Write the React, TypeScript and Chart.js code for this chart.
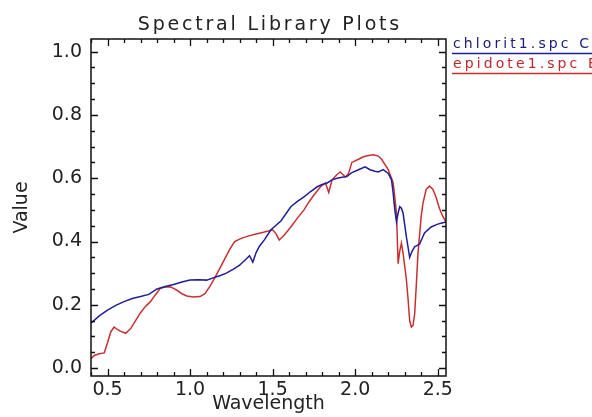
import React, { useEffect, useRef } from "react";
import { Chart, registerables } from "chart.js";

Chart.register(...registerables);

// ---- data ----
const chloritX = [0.40, 0.45, 0.50, 0.55, 0.60, 0.65, 0.70, 0.75, 0.80, 0.85, 0.90, 0.95, 1.00, 1.05, 1.10, 1.14, 1.18, 1.22, 1.26, 1.30, 1.34, 1.36, 1.38, 1.40, 1.42, 1.45, 1.49, 1.55, 1.61, 1.65, 1.69, 1.73, 1.77, 1.80, 1.83, 1.86, 1.89, 1.92, 1.95, 1.98, 2.02, 2.06, 2.09, 2.12, 2.14, 2.17, 2.20, 2.22, 2.23, 2.24, 2.25, 2.26, 2.27, 2.28, 2.29, 2.31, 2.33, 2.345, 2.36, 2.39, 2.42, 2.46, 2.50, 2.52, 2.55];
const chloritY = [0.142, 0.165, 0.183, 0.198, 0.210, 0.220, 0.226, 0.233, 0.250, 0.258, 0.264, 0.272, 0.278, 0.279, 0.278, 0.285, 0.292, 0.300, 0.312, 0.325, 0.345, 0.355, 0.335, 0.365, 0.385, 0.405, 0.437, 0.465, 0.510, 0.527, 0.541, 0.558, 0.573, 0.580, 0.585, 0.595, 0.600, 0.603, 0.605, 0.618, 0.627, 0.636, 0.627, 0.622, 0.620, 0.627, 0.615, 0.595, 0.553, 0.500, 0.462, 0.490, 0.510, 0.505, 0.490, 0.415, 0.350, 0.370, 0.383, 0.392, 0.427, 0.446, 0.455, 0.458, 0.462];

const epidoteX = [0.40, 0.42, 0.45, 0.48, 0.50, 0.52, 0.54, 0.56, 0.58, 0.61, 0.64, 0.67, 0.70, 0.73, 0.76, 0.79, 0.82, 0.85, 0.88, 0.90, 0.92, 0.95, 0.98, 1.02, 1.06, 1.09, 1.12, 1.15, 1.18, 1.21, 1.24, 1.27, 1.31, 1.35, 1.40, 1.45, 1.50, 1.52, 1.54, 1.57, 1.61, 1.65, 1.69, 1.72, 1.75, 1.79, 1.82, 1.84, 1.86, 1.89, 1.91, 1.94, 1.96, 1.98, 2.02, 2.05, 2.08, 2.11, 2.14, 2.16, 2.20, 2.22, 2.23, 2.24, 2.25, 2.26, 2.27, 2.28, 2.29, 2.31, 2.32, 2.33, 2.34, 2.35, 2.36, 2.37, 2.38, 2.40, 2.41, 2.43, 2.45, 2.47, 2.49, 2.51, 2.53, 2.55];
const epidoteY = [0.030, 0.040, 0.045, 0.048, 0.080, 0.115, 0.130, 0.122, 0.116, 0.110, 0.125, 0.150, 0.175, 0.195, 0.210, 0.232, 0.252, 0.256, 0.257, 0.252, 0.246, 0.235, 0.228, 0.225, 0.226, 0.235, 0.258, 0.285, 0.315, 0.345, 0.375, 0.400, 0.410, 0.417, 0.424, 0.430, 0.437, 0.425, 0.405, 0.420, 0.446, 0.474, 0.500, 0.525, 0.547, 0.573, 0.585, 0.555, 0.595, 0.612, 0.620, 0.604, 0.615, 0.650, 0.660, 0.668, 0.672, 0.674, 0.670, 0.660, 0.627, 0.600, 0.585, 0.540, 0.490, 0.330, 0.370, 0.395, 0.363, 0.280, 0.220, 0.150, 0.130, 0.135, 0.170, 0.260, 0.360, 0.480, 0.520, 0.565, 0.575, 0.565, 0.540, 0.505, 0.480, 0.462];

const xTickValues = [0.5, 1.0, 1.5, 2.0, 2.5];
const yTickValues = [0.0, 0.2, 0.4, 0.6, 0.8, 1.0];
const chartTitle = "Spectral Library Plots";
const xAxisTitle = "Wavelength";
const yAxisTitle = "Value";
const seriesNames = ["chlorit1.spc Chlorite", "epidote1.spc Epidote"];
const seriesColors = ["#1e1e9a", "#c83030"];
const legendTextColors = ["#1a1a80", "#c02828"];

const FONT = "'DejaVu Sans', sans-serif";

const framePlugin = {
  id: "idlFrame",
  afterDraw(chart: any) {
    const ctx = chart.ctx as CanvasRenderingContext2D;
    const area = chart.chartArea;
    const xs = chart.scales.x;
    const ys = chart.scales.y;
    ctx.save();
    ctx.strokeStyle = "#111";
    ctx.lineWidth = 1.5;
    ctx.strokeRect(area.left, area.top, area.right - area.left, area.bottom - area.top);
    ctx.lineWidth = 1.3;
    ctx.beginPath();
    // x ticks (minor every 0.1, major every 0.5)
    for (let i = 4; i <= 25; i++) {
      const v = i / 10;
      const px = Math.round(xs.getPixelForValue(v)) + 0.5;
      const len = i % 5 === 0 ? 7 : 4;
      ctx.moveTo(px, area.bottom);
      ctx.lineTo(px, area.bottom - len);
      ctx.moveTo(px, area.top);
      ctx.lineTo(px, area.top + len);
    }
    // y ticks (minor every 0.05, major every 0.2)
    for (let i = 0; i <= 20; i++) {
      const v = i * 0.05;
      const py = Math.round(ys.getPixelForValue(v)) + 0.5;
      const len = i % 4 === 0 ? 7 : 4;
      ctx.moveTo(area.left, py);
      ctx.lineTo(area.left + len, py);
      ctx.moveTo(area.right, py);
      ctx.lineTo(area.right - len, py);
    }
    ctx.stroke();

    // title
    ctx.fillStyle = "#222";
    ctx.font = `19px ${FONT}`;
    (ctx as any).letterSpacing = "2.8px";
    ctx.textAlign = "left";
    ctx.textBaseline = "alphabetic";
    const tw = ctx.measureText(chartTitle).width;
    ctx.fillText(chartTitle, (area.left + area.right) / 2 - tw / 2 + 1.4, 30);

    // legend
    ctx.font = `14px ${FONT}`;
    (ctx as any).letterSpacing = "3.1px";
    const lx = area.right + 7;
    seriesNames.forEach((name, i) => {
      const base = 48 + i * 20;
      ctx.fillStyle = legendTextColors[i];
      ctx.fillText(name, lx, base);
      ctx.strokeStyle = seriesColors[i];
      ctx.lineWidth = 1.5;
      ctx.beginPath();
      ctx.moveTo(lx - 1, base + 5.5);
      ctx.lineTo(chart.width, base + 5.5);
      ctx.stroke();
    });
    (ctx as any).letterSpacing = "0px";
    ctx.restore();
  },
};

export default function App() {
  const ref = useRef<HTMLCanvasElement | null>(null);
  useEffect(() => {
    if (!ref.current) return;
    const chart = new Chart(ref.current, {
      type: "line",
      data: {
        datasets: [
          {
            label: seriesNames[0],
            data: chloritX.map((x, i) => ({ x, y: chloritY[i] })),
            borderColor: seriesColors[0],
            borderWidth: 1.5,
            pointRadius: 0,
            tension: 0,
            fill: false,
          },
          {
            label: seriesNames[1],
            data: epidoteX.map((x, i) => ({ x, y: epidoteY[i] })),
            borderColor: seriesColors[1],
            borderWidth: 1.5,
            pointRadius: 0,
            tension: 0,
            fill: false,
          },
        ],
      },
      options: {
        responsive: false,
        animation: false,
        layout: { padding: { left: 0, right: 146, top: 39, bottom: 0 } },
        plugins: {
          legend: { display: false },
          title: { display: false },
          tooltip: { enabled: false },
        },
        scales: {
          x: {
            type: "linear",
            min: 0.4,
            max: 2.55,
            grid: { display: false, drawTicks: false },
            border: { display: false },
            afterBuildTicks: (scale: any) => {
              scale.ticks = xTickValues.map((v) => ({ value: v }));
            },
            afterFit: (scale: any) => {
              scale.height = 41;
            },
            ticks: {
              padding: 3,
              color: "#222",
              font: { family: FONT, size: 19 },
              maxRotation: 0,
              autoSkip: false,
              callback: (v: any) => Number(v).toFixed(1),
            },
            title: {
              display: true,
              text: xAxisTitle,
              color: "#222",
              font: { family: FONT, size: 19 },
              padding: { top: 0, bottom: 2 },
            },
          },
          y: {
            type: "linear",
            min: -0.025,
            max: 1.04,
            grid: { display: false, drawTicks: false },
            border: { display: false },
            afterBuildTicks: (scale: any) => {
              scale.ticks = yTickValues.map((v) => ({ value: v }));
            },
            afterFit: (scale: any) => {
              scale.width = 91;
            },
            ticks: {
              padding: 9,
              color: "#222",
              font: { family: FONT, size: 19 },
              autoSkip: false,
              callback: (v: any) => Number(v).toFixed(1),
            },
            title: {
              display: true,
              text: yAxisTitle,
              color: "#222",
              font: { family: FONT, size: 19 },
              padding: { top: 11, bottom: 0 },
            },
          },
        },
      },
      plugins: [framePlugin],
    });
    return () => chart.destroy();
  }, []);
  return (
    <div style={{ position: "absolute", left: 0, top: 0, width: 592, height: 417, background: "#fff" }}>
      <canvas ref={ref} width={592} height={417} />
    </div>
  );
}
